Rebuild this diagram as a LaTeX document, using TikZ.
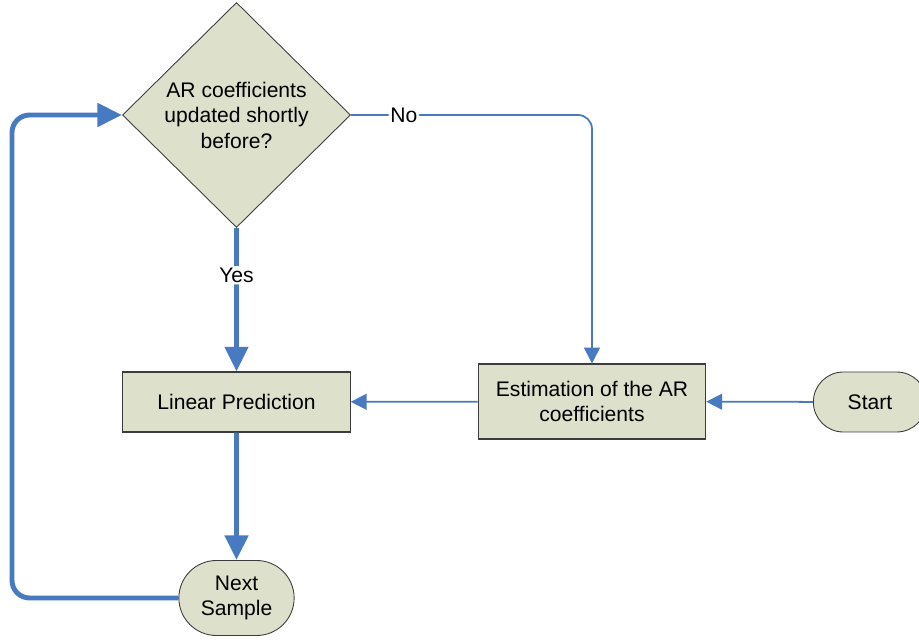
\documentclass[tikz,border=0pt]{standalone}
\usepackage{fontspec}
\setmainfont{Liberation Sans}
\usepackage{xcolor}
\usepackage{tikz}
\usetikzlibrary{shapes.geometric, shapes.misc, arrows.meta, positioning, calc}
\definecolor{flowblue}{RGB}{72,122,194}
\definecolor{boxfill}{RGB}{221,224,203}
\definecolor{boxdraw}{RGB}{60,60,60}

\begin{document}
\begin{tikzpicture}[
  decnode/.style   = {diamond, aspect=1, fill=boxfill, draw=boxdraw, line width=0.5pt,
                  minimum width=4.56cm, minimum height=4.5cm, inner sep=0pt, align=center,
                  font=\fontsize{12}{14.5}\selectfont},
  procnode/.style  = {rectangle, fill=boxfill, draw=boxdraw, line width=0.6pt,
                  minimum width=4.55cm, minimum height=1.2cm, align=center,
                  font=\fontsize{12}{14.5}\selectfont},
  termnode/.style  = {rounded rectangle, fill=boxfill, draw=boxdraw, line width=0.5pt,
                  minimum height=1.2cm, align=center,
                  font=\fontsize{12}{14.5}\selectfont},
  lbl/.style       = {fill=white, text=black, inner sep=1pt, font=\fontsize{12}{14}\selectfont},
  thickarr/.style  = {-{Triangle[length=14pt, width=13pt]}, line width=2.8pt, color=flowblue,
                  rounded corners=10pt},
  thinarr/.style   = {-{Triangle[length=9pt, width=9pt]}, line width=1pt, color=flowblue,
                  rounded corners=8pt},
]
\useasboundingbox (0,0) rectangle (18.38,12.78);

%% Decision
\node[decnode] (dec) at (4.73,10.48) {AR coefficients\\updated shortly\\before?};

%% Processing steps
\node[procnode] (lin) at (4.73,4.74) {Linear Prediction};
\node[procnode, minimum height=1.5cm] (est) at (11.84,4.75) {Estimation of the AR\\coefficients};

%% Terminals
\node[termnode, minimum width=2.5cm] (start) at (17.4,4.74) {Start};
\node[termnode, minimum width=2.54cm, minimum height=1.5cm] (nxt) at (4.73,0.82) {Next\\Sample};

%% Loop corner
\coordinate (lc) at (0.24,0);

%% Arrows
\draw[thinarr] (start) -- (est);
\draw[thinarr] (est) -- (lin);
\draw[thinarr] (dec.east) -| node[lbl, pos=0.11]{No} (est.north);
\draw[thickarr] (dec.south) -- node[lbl, pos=0.33]{Yes} (lin.north);
\draw[thickarr] (lin) -- (nxt);
\draw[thickarr] (nxt.west) -- (nxt.west -| lc) |- (dec.west);

\end{tikzpicture}
\end{document}
